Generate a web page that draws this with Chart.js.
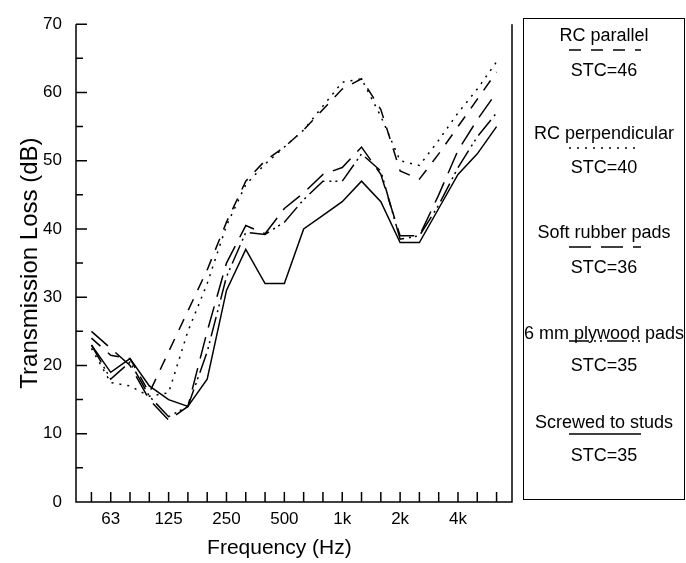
<!DOCTYPE html>
<html>
<head>
<meta charset="utf-8">
<script src="https://cdn.jsdelivr.net/npm/chart.js@4.4.1/dist/chart.umd.min.js"></script>
<style>
  body { margin: 0; background: #fff; }
  #wrap { position: relative; width: 686px; height: 563px; font-family: "Liberation Sans", Arial, sans-serif; }
  #legendBox { position: absolute; left: 523px; top: 18px; width: 162px; height: 482px; border: 1.5px solid #000; box-sizing: border-box; }
  .lg { position: absolute; left: 523px; width: 162px; text-align: center; font-size: 18px; line-height: 20px; color: #000; white-space: nowrap; }
  .smp { position: absolute; left: 569px; }
</style>
</head>
<body>
<div id="wrap">
  <canvas id="myChart" width="686" height="563"></canvas>
  <div id="legendBox"></div>
</div>
<script>
// 1/3 octave bands, 50 Hz .. 6.3 kHz
var bands = ['50', '63', '80', '100', '125', '160', '200', '250', '315', '400', '500',
             '630', '800', '1000', '1250', '1600', '2000', '2500', '3150', '4000', '5000', '6300'];
var tickLabels = ['', '63', '', '', '125', '', '', '250', '', '', '500',
                  '', '', '1k', '', '', '2k', '', '', '4k', '', ''];

var seriesNames = ['RC parallel', 'RC perpendicular', 'Soft rubber pads', '6 mm plywood pads', 'Screwed to studs'];
var stcValues = [46, 40, 36, 35, 35];

var rcParallel = [24, 21.5, 21, 16, 22, 28, 34, 41, 47, 50, 52, 54.5, 57.5, 60.5, 62, 57.5, 48.5, 47.3, 51, 55, 59, 63];
var rcPerpendicular = [22.5, 17.5, 17, 15.5, 16, 25, 32, 40.5, 46.5, 49.5, 52, 54.5, 58, 61.5, 62, 56.5, 50, 49.3, 53, 57, 60.5, 64.5];
var softRubber = [25, 22.5, 20, 15, 12, 14, 25, 35, 40.5, 39.3, 43, 45.3, 48, 49, 52, 48, 39, 39, 45, 51.5, 56, 60];
var plywood = [23, 18, 20.5, 15.5, 12.5, 14, 22, 33, 39.5, 39.2, 41, 44.3, 47, 47, 51, 48.5, 38.5, 39, 43.5, 49, 53.5, 57];
var screwed = [23, 19, 21, 17, 15, 14, 18, 31, 37, 32, 32, 40, 42, 44, 47, 44, 38, 38, 43, 48, 51, 55];

var allSeries = [rcParallel, rcPerpendicular, softRubber, plywood, screwed];

// line styles
var dashes = [[12, 10], [2, 6], [22, 10], [20, 5, 2, 4, 2, 5], []];

Chart.defaults.font.family = '"Liberation Sans", Arial, sans-serif';
Chart.defaults.color = '#000';

// axis lines, right edge and inward ticks
var frame = {
  id: 'frame',
  afterDraw: function (chart) {
    var ctx = chart.ctx, a = chart.chartArea, x = chart.scales.x, y = chart.scales.y;
    ctx.save();
    ctx.strokeStyle = '#000';
    ctx.lineWidth = 1.5;
    ctx.beginPath();
    ctx.moveTo(a.left, a.top);
    ctx.lineTo(a.left, a.bottom);
    ctx.lineTo(a.right, a.bottom);
    ctx.lineTo(a.right, a.top);
    y.ticks.forEach(function (t) {
      var py = y.getPixelForValue(t.value);
      var len = t.value % 10 === 0 ? 11 : 7;
      ctx.moveTo(a.left, py);
      ctx.lineTo(a.left + len, py);
    });
    x.ticks.forEach(function (t) {
      var px = x.getPixelForValue(t.value);
      ctx.moveTo(px, a.bottom);
      ctx.lineTo(px, a.bottom - 10);
    });
    ctx.stroke();
    ctx.restore();
  }
};

var ctx = document.getElementById('myChart');
var myChart = new Chart(ctx, {
  type: 'line',
  data: {
    datasets: allSeries.map(function (vals, k) {
      return {
        label: seriesNames[k],
        data: vals.map(function (v, i) { return { x: i, y: v }; }),
        borderColor: '#000',
        borderWidth: 1.5,
        borderDash: dashes[k],
        pointRadius: 0,
        tension: 0,
        fill: false
      };
    })
  },
  options: {
    responsive: false,
    animation: false,
    devicePixelRatio: 1,
    layout: { padding: { top: 18, right: 174, left: 0, bottom: 0 } },
    plugins: { legend: { display: false }, tooltip: { enabled: false } },
    scales: {
      x: {
        type: 'linear',
        min: -0.8,
        max: 21.8,
        afterBuildTicks: function (s) {
          s.ticks = bands.map(function (b, i) { return { value: i }; });
        },
        afterFit: function (s) { s.height = 61; },
        grid: { display: false, drawTicks: false },
        border: { display: false },
        ticks: {
          autoSkip: false,
          maxRotation: 0,
          padding: 7,
          font: { size: 17 },
          callback: function (v) { return tickLabels[v]; }
        },
        title: { display: true, text: 'Frequency (Hz)     ', font: { size: 21 }, padding: { top: 0, bottom: 2 } }
      },
      y: {
        min: 0,
        max: 70,
        afterFit: function (s) { s.width = 76; },
        grid: { display: false, drawTicks: false },
        border: { display: false },
        ticks: {
          stepSize: 5,
          padding: 14,
          font: { size: 17 },
          callback: function (v) { return v % 10 === 0 ? String(v) : ''; }
        },
        title: { display: true, text: 'Transmission Loss (dB)', font: { size: 24 }, padding: { top: 16, bottom: 0 } }
      }
    }
  },
  plugins: [frame]
});

// legend box: name, line sample, STC
var legendRows = [[35, 50, 70], [133, 148, 167], [232, 247, 267], [333, 341, 365], [422, 434, 455]];
var wrap = document.getElementById('wrap');
seriesNames.forEach(function (name, k) {
  var r = legendRows[k];
  var t = document.createElement('div');
  t.className = 'lg';
  t.style.top = (r[0] - 10) + 'px';
  t.textContent = name;
  wrap.appendChild(t);

  var svgNS = 'http://www.w3.org/2000/svg';
  var svg = document.createElementNS(svgNS, 'svg');
  svg.setAttribute('class', 'smp');
  svg.setAttribute('width', '72');
  svg.setAttribute('height', '6');
  svg.style.top = (r[1] - 3) + 'px';
  var ln = document.createElementNS(svgNS, 'line');
  ln.setAttribute('x1', '0'); ln.setAttribute('y1', '3');
  ln.setAttribute('x2', '72'); ln.setAttribute('y2', '3');
  ln.setAttribute('stroke', '#000');
  ln.setAttribute('stroke-width', '1.5');
  if (dashes[k].length) ln.setAttribute('stroke-dasharray', dashes[k].join(' '));
  svg.appendChild(ln);
  wrap.appendChild(svg);

  var s = document.createElement('div');
  s.className = 'lg';
  s.style.top = (r[2] - 10) + 'px';
  s.textContent = 'STC=' + stcValues[k];
  wrap.appendChild(s);
});
</script>
</body>
</html>
